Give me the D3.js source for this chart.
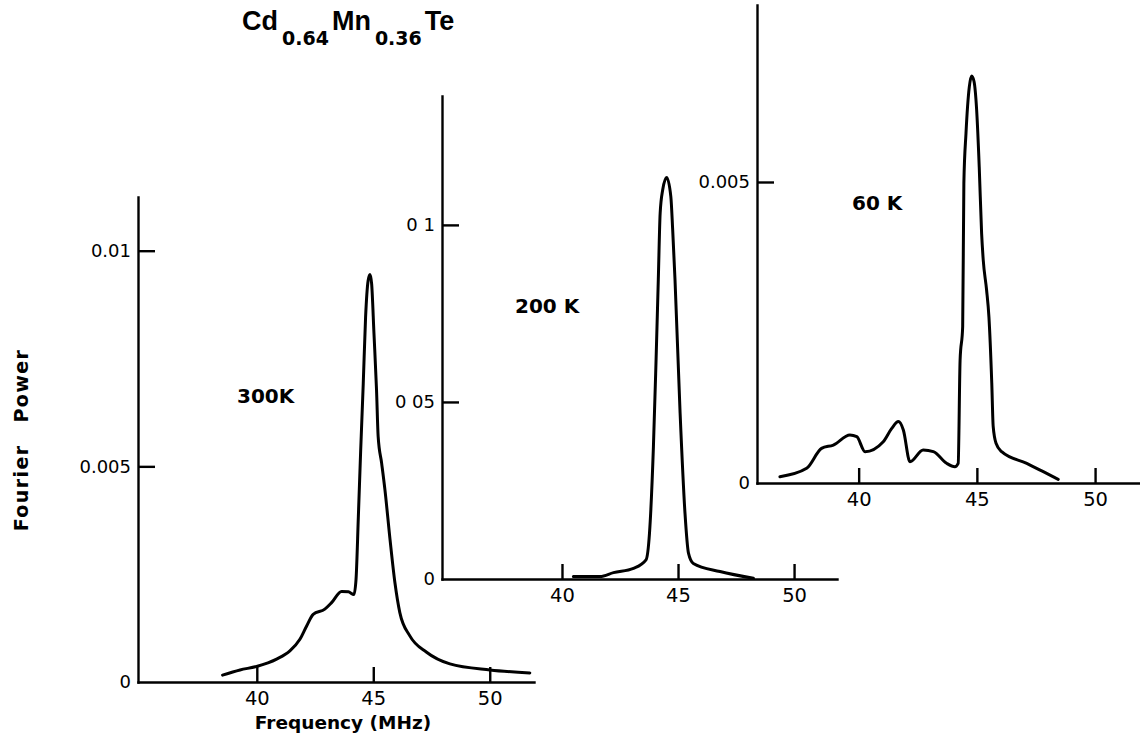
<!DOCTYPE html>
<html>
<head>
<meta charset="utf-8">
<script src="https://cdn.jsdelivr.net/npm/d3@7"></script>
<style>
  html, body { margin: 0; padding: 0; background: #fff; }
  svg { display: block; }
</style>
</head>
<body>
<svg id="chart" width="1140" height="736"></svg>
<script>
// Fourier power spectra of Cd0.64Mn0.36Te (NMR) at 300 K, 200 K and 60 K

const freqTicks = [40, 45, 50];

// 300 K spectrum
const freq300 = [38.53, 39.28, 39.99, 40.85, 41.42, 41.85, 42.14, 42.42, 42.92, 43.21, 43.64, 43.93, 44.17,
  44.26, 44.36, 44.46, 44.57, 44.67, 44.78, 44.86, 44.93, 45.03, 45.14, 45.21, 45.36, 45.50, 45.72, 45.93,
  46.14, 46.57, 47.29, 48.29, 50.01, 51.72];
const power300 = [0.00016, 0.00028, 0.00036, 0.00053, 0.00072, 0.00099, 0.0013, 0.00157, 0.00169, 0.00184, 0.0021, 0.00209, 0.00203,
  0.00238, 0.00384, 0.00538, 0.00692, 0.00846, 0.00931, 0.00945, 0.00923, 0.00808, 0.00677, 0.00569, 0.00507, 0.00446, 0.0033, 0.0023,
  0.00161, 0.00107, 0.00069, 0.00042, 0.00028, 0.00021];
const yTicks300 = [0, 0.005, 0.01];
const yLabels300 = ["0", "0.005", "0.01"];

// 200 K spectrum
const freq200 = [40.49, 41.64, 42.22, 43.08, 43.62, 43.77, 43.94, 44.05, 44.15, 44.23, 44.34, 44.51, 44.69,
  44.77, 44.87, 45.09, 45.30, 45.45, 45.66, 46.81, 48.25];
const power200 = [0.00007, 0.00007, 0.00018, 0.0003, 0.00054, 0.00129, 0.00374, 0.0061, 0.00845, 0.01033, 0.01099, 0.01134, 0.0108,
  0.00986, 0.00845, 0.00468, 0.00186, 0.00073, 0.00044, 0.00021, 0.00002];
const yTicks200 = [0, 0.005, 0.01];
const yLabels200 = ["0", "0 05", "0 1"];

// 60 K spectrum
const freq60 = [36.67, 37.80, 38.43, 38.93, 39.63, 39.92, 40.27, 41.04, 41.40, 41.68, 41.89, 42.17, 42.73, 43.16,
  43.72, 44.07, 44.21, 44.29, 44.40, 44.45, 44.54, 44.68, 44.78, 44.88, 44.99, 45.10, 45.20, 45.27, 45.41, 45.51,
  45.63, 45.69, 45.81, 46.05, 47.11, 47.81, 48.44];
const power60 = [0.000105, 0.000244, 0.000576, 0.000631, 0.000797, 0.000769, 0.00052, 0.000686, 0.000908, 0.00102, 0.00088, 0.000354, 0.000548, 0.00052,
  0.000327, 0.000271, 0.000327, 0.00204, 0.0026, 0.00498, 0.00581, 0.00658, 0.00676, 0.00667, 0.0062, 0.00525, 0.00415, 0.0037, 0.00321, 0.00276,
  0.00166, 0.00094, 0.00066, 0.00052, 0.000327, 0.000188, 0.000061];
const yTicks60 = [0, 0.005];
const yLabels60 = ["0", "0.005"];

const tempLabels = ["300K", "200 K", "60 K"];

// Panel frames: plot box in pixels plus the axis extents in data units
const panels = [
  { freq: freq300, power: power300, yTicks: yTicks300, yLabels: yLabels300, label: tempLabels[0],
    xDomain: [34.9, 51.9], yTop: 0.011245, left: 138, right: 534, bottom: 682, top: 197,
    labelX: 237, labelY: 403, pad: 7 },
  { freq: freq200, power: power200, yTicks: yTicks200, yLabels: yLabels200, label: tempLabels[1],
    xDomain: [34.83, 51.85], yTop: 0.01364, left: 442, right: 837, bottom: 579, top: 96,
    labelX: 515, labelY: 313, pad: 7 },
  { freq: freq60, power: power60, yTicks: yTicks60, yLabels: yLabels60, label: tempLabels[2],
    xDomain: [35.7, 51.9], yTop: 0.00794, left: 757, right: 1140, bottom: 483, top: 5,
    labelX: 852, labelY: 210, pad: 7 }
];

const svg = d3.select("#chart");
const ink = "#000";

function styleAxis(g, size) {
  g.attr("font-family", "'DejaVu Sans', sans-serif").attr("font-size", size);
  g.selectAll(".domain").attr("stroke", ink).attr("stroke-width", 2.4).attr("stroke-linecap", "square");
  g.selectAll(".tick line").attr("stroke", ink).attr("stroke-width", 2.4);
  g.selectAll(".tick text").attr("fill", ink);
}

panels.forEach(p => {
  const x = d3.scaleLinear().domain(p.xDomain).range([p.left, p.right]);
  const y = d3.scaleLinear().domain([0, p.yTop]).range([p.bottom, p.top]);

  const gx = svg.append("g")
    .attr("transform", `translate(0,${p.bottom})`)
    .call(d3.axisBottom(x).tickValues(freqTicks).tickSizeInner(-15).tickSizeOuter(0)
      .tickPadding(9).tickFormat(d3.format("d")));
  styleAxis(gx, 19.5);

  const gy = svg.append("g")
    .attr("transform", `translate(${p.left},0)`)
    .call(d3.axisLeft(y).tickValues(p.yTicks).tickSizeInner(-17).tickSizeOuter(0)
      .tickPadding(p.pad).tickFormat((d, i) => p.yLabels[i]));
  styleAxis(gy, 18);
  gy.selectAll(".tick").filter(d => d === 0).select("line").remove();

  const pts = p.freq.map((f, i) => [f, p.power[i]]);
  svg.append("path")
    .datum(pts)
    .attr("fill", "none")
    .attr("stroke", ink)
    .attr("stroke-width", 3)
    .attr("stroke-linejoin", "round")
    .attr("stroke-linecap", "round")
    .attr("d", d3.line().x(d => x(d[0])).y(d => y(d[1])).curve(d3.curveMonotoneX));

  svg.append("text")
    .attr("x", p.labelX).attr("y", p.labelY)
    .attr("font-family", "'DejaVu Sans', sans-serif")
    .attr("font-weight", "bold").attr("font-size", 20)
    .attr("fill", ink)
    .text(p.label);
});

// Compound formula with subscripted fractions
const titleParts = [
  { t: "Cd", sub: false }, { t: "0.64", sub: true },
  { t: "Mn", sub: false }, { t: "0.36", sub: true },
  { t: "Te", sub: false }
];
const title = svg.append("text").attr("x", 242).attr("y", 30).attr("font-weight", "bold").attr("fill", ink);
let wasSub = false;
titleParts.forEach(part => {
  const ts = title.append("tspan").text(part.t);
  if (part.sub) {
    ts.attr("font-family", "'DejaVu Sans', sans-serif").attr("font-size", 19).attr("dy", 15).attr("dx", 4);
  } else {
    ts.attr("font-family", "'Liberation Sans', Arial, sans-serif").attr("font-size", 27);
    if (wasSub) ts.attr("dy", -15).attr("dx", 3);
  }
  wasSub = part.sub;
});

// Axis titles
svg.append("text")
  .attr("x", 343).attr("y", 729)
  .attr("text-anchor", "middle")
  .attr("font-family", "'DejaVu Sans', sans-serif")
  .attr("font-weight", "bold").attr("font-size", 18.5)
  .attr("fill", ink)
  .text("Frequency (MHz)");

svg.append("text")
  .attr("transform", "translate(28,440) rotate(-90)")
  .attr("text-anchor", "middle")
  .attr("font-family", "'DejaVu Sans', sans-serif")
  .attr("font-weight", "bold").attr("font-size", 19)
  .attr("letter-spacing", 1.4)
  .attr("word-spacing", 14)
  .attr("fill", ink)
  .text("Fourier Power");
</script>
</body>
</html>
